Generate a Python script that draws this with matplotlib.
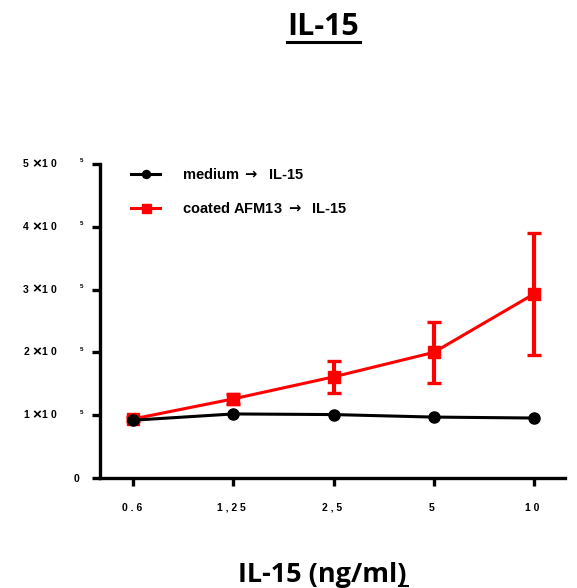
import numpy as np
import matplotlib
matplotlib.use("Agg")
import matplotlib.pyplot as plt
from matplotlib.lines import Line2D
from matplotlib.transforms import blended_transform_factory

plt.rcParams['font.family'] = ['Liberation Sans', 'DejaVu Sans']
plt.rcParams['mathtext.fontset'] = 'dejavusans'

doses = ["0 . 6 ", "1 , 2 5 ", "2 , 5 ", "5 ", "1 0 "]
medium = [0.92e5, 1.02e5, 1.01e5, 0.97e5, 0.955e5]
coated = [0.94e5, 1.26e5, 1.61e5, 2.00e5, 2.93e5]
coated_err = [0.03e5, 0.08e5, 0.25e5, 0.485e5, 0.97e5]
yticks = [0, 1e5, 2e5, 3e5, 4e5, 5e5]
ytick_mult = ["", "1", "2", "3", "4", "5"]

W, H = 577, 588
fig = plt.figure(figsize=(W/100, H/100), dpi=100)
ax = fig.add_axes([100/W, 1-478/H, 465/W, 314/H])
xpos = np.arange(len(doses))
red = '#ff0000'

ax.plot(xpos, medium, color='black', lw=2.2, marker='o', ms=8,
        label=r'medium $\mathbf{\rightarrow}$  IL-15', zorder=3)
ax.errorbar(xpos, coated, yerr=coated_err, fmt='none', ecolor=red,
            elinewidth=3, capsize=4.7, capthick=2.4, zorder=2)
ax.plot(xpos, coated, color=red, lw=2.2, marker='s', ms=9,
        label=r'coated AFM13 $\mathbf{\rightarrow}$  IL-15', zorder=2)

ax.set_xlim(-0.33, 4.31)
ax.set_ylim(0, 5e5)
ax.set_xticks(xpos)
ax.set_xticklabels(doses, fontsize=7.5, fontweight='bold')
ax.set_yticks(yticks)
ax.set_yticklabels(["0", "", "", "", "", ""], fontsize=7.5, fontweight='bold')
for s in ['top', 'right']:
    ax.spines[s].set_visible(False)
for s in ['left', 'bottom']:
    ax.spines[s].set_linewidth(2.4)
ax.tick_params(axis='both', length=6, width=2.4, direction='out')
ax.tick_params(axis='x', pad=12)
ax.tick_params(axis='y', pad=9)

# GraphPad style "n x10^5" tick labels
tr = blended_transform_factory(fig.transFigure, ax.transData)
for yv, m in zip(yticks, ytick_mult):
    if not m:
        continue
    ax.text(26/W, yv, m, transform=tr, ha='center', va='center',
            fontsize=7.5, fontweight='bold')
    ax.text(36.5/W, yv, "×", transform=tr, ha='center', va='center',
            fontsize=11, fontweight='bold')
    ax.text(44.5/W, yv, "1", transform=tr, ha='center', va='center',
            fontsize=7.5, fontweight='bold')
    ax.text(53.5/W, yv, "0", transform=tr, ha='center', va='center',
            fontsize=7.5, fontweight='bold')
    ax.text(82/W, yv + 0.05e5, "5", transform=tr, ha='center', va='center',
            fontsize=4.5, fontweight='bold')

leg = ax.legend(loc='upper left', bbox_to_anchor=(118/W, 1-154/H),
                bbox_transform=fig.transFigure, frameon=False,
                prop={'weight': 'bold', 'size': 10.5}, handlelength=2.0,
                labelspacing=1.3, handletextpad=1.5, markerscale=0.72)

fig.text(323/W, 1-27/H, "IL-15", ha='center', va='center',
         fontsize=22, fontweight='bold', family='Open Sans')
fig.add_artist(Line2D([287/W, 360/W], [1-41.5/H, 1-41.5/H],
                      color='black', lw=2.2))
fig.text(322/W, 1-575/H, "IL-15 (ng/ml)", ha='center', va='center',
         fontsize=19.5, fontweight='bold', family='Open Sans')
fig.add_artist(Line2D([399/W, 408/W], [1-586/H, 1-586/H],
                      color='black', lw=1.5))

fig.savefig("out.png", dpi=100)
